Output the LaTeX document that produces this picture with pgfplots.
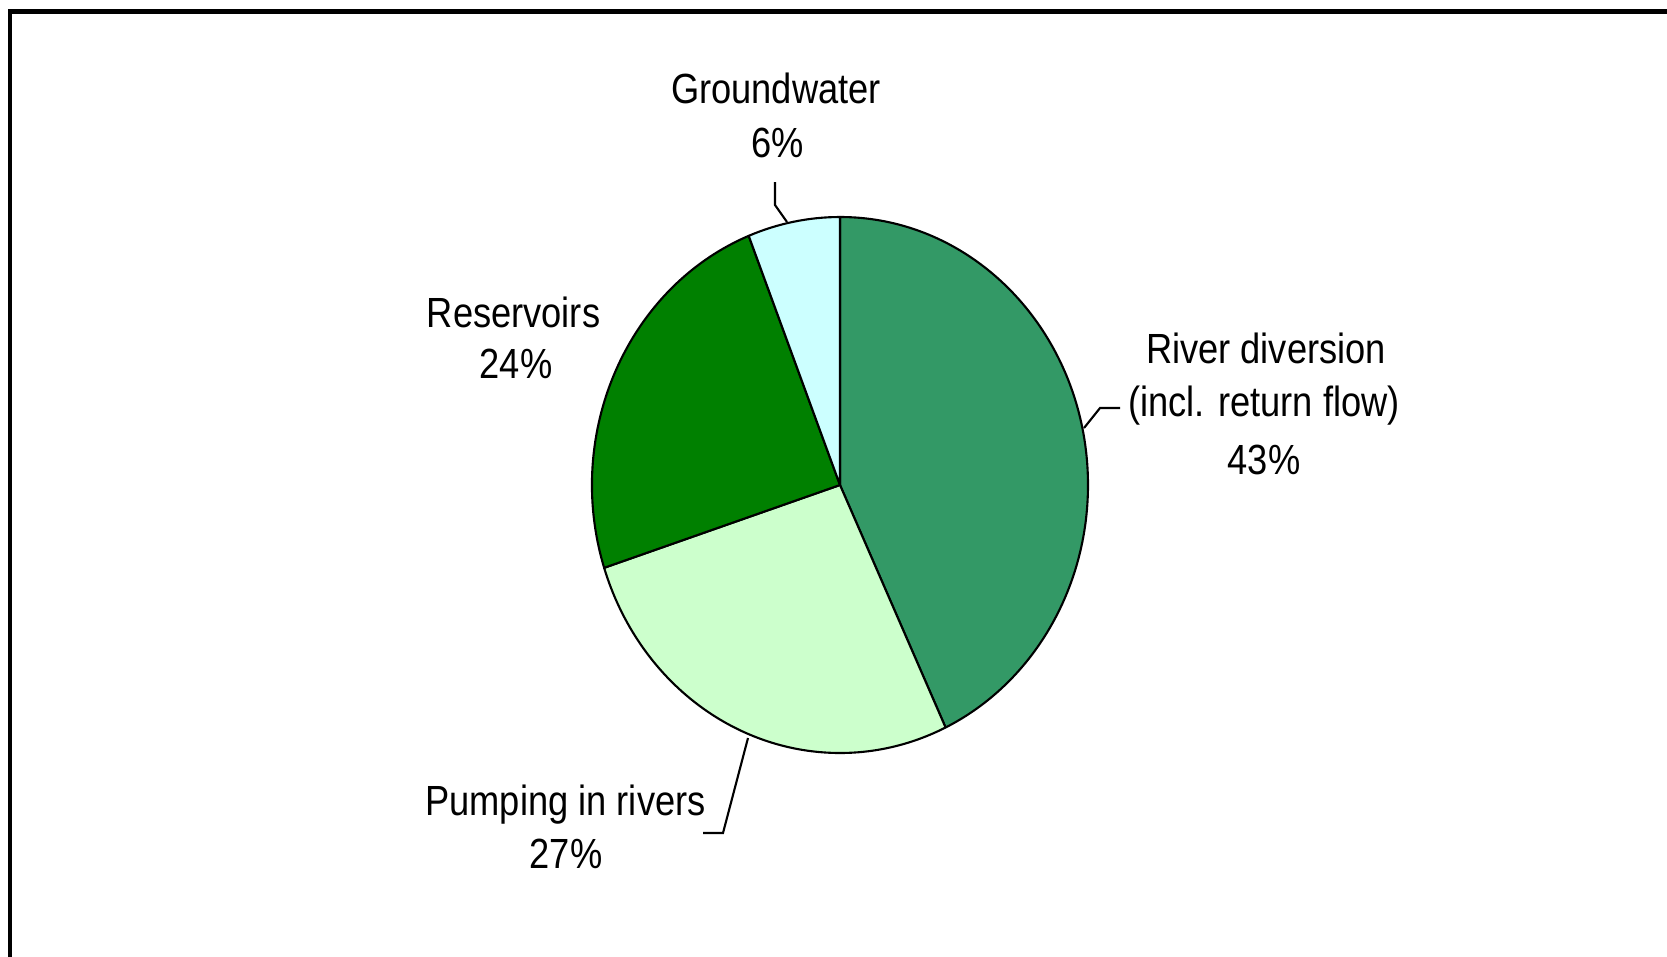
\documentclass[border=0pt]{standalone}
\usepackage{pgfplots}
\pgfplotsset{compat=1.18}
\usepackage{fontspec}
\setmainfont{Liberation Sans}[FakeStretch=0.86]

\definecolor{river}{HTML}{339966}
\definecolor{pump}{HTML}{CCFFCC}
\definecolor{reserv}{HTML}{008000}
\definecolor{ground}{HTML}{CCFFFF}

% shares in percent, clockwise from the top
\def\vRiver{43}
\def\vPump{27}
\def\vRes{24}
\def\vGround{6}
\pgfmathsetmacro\aA{90}
\pgfmathsetmacro\aB{\aA-3.6*\vRiver}
\pgfmathsetmacro\aC{\aB-3.6*\vPump}
\pgfmathsetmacro\aD{\aC-3.6*\vRes}
\pgfmathsetmacro\aE{\aD-3.6*\vGround}

% pie centre and radii (axis units = pixels)
\def\cx{840}
\def\cy{471}
\def\rx{248}
\def\ry{268}

\newcommand\pieslice[3]{%
  \filldraw[fill=#3, draw=black, line width=0.6pt, line join=round]
    (axis cs:\cx,\cy) -- (axis cs:{\cx+\rx*cos(#1)},{\cy+\ry*sin(#1)})
    arc[start angle=#1, end angle=#2, x radius=2.48cm, y radius=2.68cm] -- cycle;}

\begin{document}
\begin{tikzpicture}
\begin{axis}[
    scale only axis,
    width=16.67cm, height=9.56cm,
    xmin=0, xmax=1667, ymin=0, ymax=956,
    hide axis, clip=false,
]
\pieslice{\aA}{\aB}{river}
\pieslice{\aB}{\aC}{pump}
\pieslice{\aC}{\aD}{reserv}
\pieslice{\aD}{\aE}{ground}

% leader lines
\draw[line width=0.6pt] (axis cs:775,774) -- (axis cs:775,751) -- (axis cs:787,734);
\draw[line width=0.6pt] (axis cs:1120,548) -- (axis cs:1100,548) -- (axis cs:1084,528);
\draw[line width=0.6pt] (axis cs:748,218) -- (axis cs:723,123) -- (axis cs:703,123);

% labels
\begin{scope}[every node/.style={anchor=base, inner sep=0pt, font=\fontsize{12}{15}\selectfont}]
\node at (axis cs:776,853) {Groundwater};
\node at (axis cs:778,799) {\vGround\%};
\node at (axis cs:513.5,629) {Reservoirs};
\node at (axis cs:516,578) {\vRes\%};
\node at (axis cs:1266,593) {River diversion};
\node at (axis cs:1264,540) {(incl. return flow)};
\node at (axis cs:1264,482) {\vRiver\%};
\node at (axis cs:565.5,141) {Pumping in rivers};
\node at (axis cs:566,88) {\vPump\%};
\end{scope}

% frame
\draw[line width=1.15pt] (axis cs:10,-20) -- (axis cs:10,944.5) -- (axis cs:1690,944.5);
\end{axis}
\pgfresetboundingbox
\path (current axis.south west) rectangle (current axis.north east);
\end{tikzpicture}
\end{document}
